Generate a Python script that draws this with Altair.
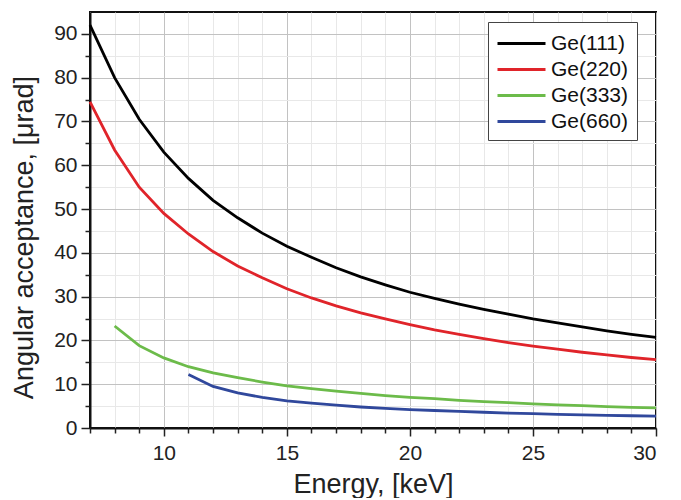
import altair as alt
import pandas as pd

energy_111 = list(range(7, 31))
ge111 = [92, 80, 70.5, 63, 57, 52, 48, 44.5, 41.5, 39, 36.6, 34.5, 32.7, 31, 29.6, 28.3, 27.1, 26, 24.9, 24, 23.1, 22.2, 21.4, 20.7]
energy_220 = list(range(7, 31))
ge220 = [74.5, 63.5, 55, 49, 44.3, 40.3, 37, 34.3, 31.8, 29.7, 27.9, 26.3, 24.9, 23.6, 22.4, 21.4, 20.4, 19.5, 18.7, 18, 17.3, 16.7, 16.1, 15.6]
energy_333 = list(range(8, 31))
ge333 = [23.3, 18.8, 16, 14, 12.6, 11.5, 10.5, 9.6, 9, 8.4, 7.9, 7.4, 7, 6.7, 6.3, 6.0, 5.8, 5.5, 5.3, 5.1, 4.9, 4.7, 4.6]
energy_660 = list(range(11, 31))
ge660 = [12.2, 9.5, 8, 7, 6.2, 5.7, 5.2, 4.8, 4.5, 4.2, 4.0, 3.8, 3.6, 3.4, 3.3, 3.1, 3.0, 2.9, 2.8, 2.7]

series = ["Ge(111)", "Ge(220)", "Ge(333)", "Ge(660)"]
colors = ["#000000", "#e0242a", "#6cbb4a", "#30489c"]

rows = []
for name, xs, ys in zip(series, [energy_111, energy_220, energy_333, energy_660], [ge111, ge220, ge333, ge660]):
    for e, v in zip(xs, ys):
        rows.append({"Energy": e, "Acceptance": v, "Crystal": name})
df = pd.DataFrame(rows)

FONT = "Liberation Sans"

x_axis = alt.Axis(
    values=list(range(7, 31)),
    labelExpr="datum.value % 5 === 0 ? datum.label : ''",
    title="Energy, [keV]",
    titleFont=FONT, titleFontSize=27, titleFontWeight="normal", titleColor="#222",
    titlePadding=8,
    labelFont=FONT, labelFontSize=21, labelColor="#222", labelPadding=6,
    domainColor="#111", domainWidth=2,
    tickColor="#222", tickWidth=1.5,
    tickSize={"condition": {"test": "datum.value % 5 === 0", "value": 8}, "value": 5},
    grid=True,
    gridColor={"condition": {"test": "datum.value % 5 === 0", "value": "#c2c2c2"}, "value": "#e8e8e8"},
    gridWidth=1,
)
y_axis = alt.Axis(
    values=list(range(0, 95, 5)),
    labelExpr="datum.value % 10 === 0 ? datum.label : ''",
    title="Angular acceptance, [\u03bcrad]",
    titleFont=FONT, titleFontSize=27, titleFontWeight="normal", titleColor="#222",
    titlePadding=15, titleY=225,
    labelFont=FONT, labelFontSize=21, labelColor="#222", labelPadding=4,
    domainColor="#111", domainWidth=2,
    tickColor="#222", tickWidth=1.5,
    tickSize={"condition": {"test": "datum.value % 10 === 0", "value": 9}, "value": 5},
    grid=True,
    gridColor={"condition": {"test": "datum.value % 10 === 0", "value": "#c2c2c2"}, "value": "#e8e8e8"},
    gridWidth=1,
)

chart = alt.Chart(df).mark_line(strokeWidth=2.8).encode(
    x=alt.X("Energy:Q", scale=alt.Scale(domain=[7, 30], nice=False, zero=False), axis=x_axis),
    y=alt.Y("Acceptance:Q", scale=alt.Scale(domain=[0, 95], nice=False), axis=y_axis),
    color=alt.Color(
        "Crystal:N",
        scale=alt.Scale(domain=series, range=colors),
        legend=alt.Legend(
            title=None, orient="none", legendX=398, legendY=10,
            labelFont=FONT, labelFontSize=21, labelColor="#111",
            symbolType="M-2,0H2", symbolStrokeWidth=3, symbolSize=576,
            symbolOffset=12, labelOffset=16,
            fillColor="white", strokeColor="#444", padding=8,
            rowPadding=2,
        ),
    ),
).properties(
    width=566, height=416,
    autosize=alt.AutoSizeParams(type="none"),
    padding={"left": 82, "top": 4, "right": 15, "bottom": 70},
).configure_view(stroke="#111", strokeWidth=2)

chart.save("out.html", embed_options={"renderer": "svg", "actions": False})
